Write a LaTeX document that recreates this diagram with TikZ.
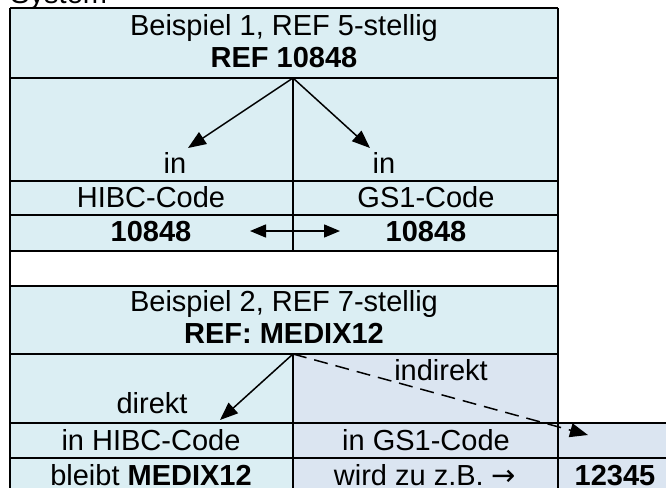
\documentclass[tikz,border=0pt]{standalone}
\usepackage{fontspec}
\setmainfont{Liberation Sans}
\newfontfamily\symfont{DejaVu Sans}
\usetikzlibrary{arrows.meta,positioning}
\definecolor{cellblue}{RGB}{219,238,243}
\definecolor{cellgray}{RGB}{219,229,241}
\tikzset{%
	txt/.style      = {inner sep=0pt, anchor=base, font=\fontsize{14.5}{16}\selectfont},
	gridline/.style = {line width=1pt},
	arrow/.style    = {line width=0.75pt, -{Triangle[length=9pt,width=7pt]}},
	dblarrow/.style = {line width=0.75pt, {Triangle[length=8pt,width=6.5pt]}-{Triangle[length=8pt,width=6.5pt]}},
}
\begin{document}
\begin{tikzpicture}[x=0.5pt,y=-0.5pt]
	\useasboundingbox (0,0) rectangle (666,488);
	\clip (0,0) rectangle (666,488);
	% cell fills
	\fill[cellblue] (10,8) rectangle (558,251);
	\fill[cellblue] (10,286) rectangle (558,354);
	\fill[cellblue] (10,354) rectangle (293,500);
	\fill[cellgray] (293,354) rectangle (558,500);
	\fill[cellgray] (558,423) rectangle (680,500);
	% grid
	\foreach \y in {8,78,181,215,251,286,354,423,458}
		\draw[gridline] (10,\y) -- (558,\y);
	\draw[gridline] (558,423) -- (680,423);
	\draw[gridline] (558,458) -- (680,458);
	\draw[gridline] (10,8) -- (10,500);
	\draw[gridline] (558,8) -- (558,500);
	\draw[gridline] (293,78) -- (293,251);
	\draw[gridline] (293,354) -- (293,500);
	
	\node[txt, anchor=base west] (title) at (10,3) {System};
	
	% Beispiel 1
	\node[txt] (hdrA) at (284,35) {Beispiel 1, REF 5-stellig};
	\node[txt] (refA) at (284,67) {\textbf{REF 10848}};
	\node[txt] (inL) at (175,173) {in};
	\node[txt] (inR) at (384,173) {in};
	\node[txt] (hibcA) at (151,207) {HIBC-Code};
	\node[txt] (gsA) at (426,207) {GS1-Code};
	\node[txt] (numL) at (151,241) {\textbf{10848}};
	\node[txt] (numR) at (426,241) {\textbf{10848}};
	\coordinate (forkA) at (293,78);
	\coordinate (tipAL) at (188,148);
	\coordinate (tipAR) at (370,148);
	\coordinate (swapL) at (250,231);
	\coordinate (swapR) at (340,231);
	\draw[arrow] (forkA) -- (tipAL);
	\draw[arrow] (forkA) -- (tipAR);
	\draw[dblarrow] (swapL) -- (swapR);
	
	% Beispiel 2
	\node[txt] (hdrB) at (284,311) {Beispiel 2, REF 7-stellig};
	\node[txt] (refB) at (284,343) {\textbf{REF: MEDIX12}};
	\node[txt] (direkt) at (152,413) {direkt};
	\node[txt] (indirekt) at (441,380) {indirekt};
	\node[txt] (hibcB) at (151,450) {in HIBC-Code};
	\node[txt] (gsB) at (426,450) {in GS1-Code};
	\node[txt] (keepB) at (151,485) {bleibt \textbf{MEDIX12}};
	\node[txt] (becomeB) at (425,485) {wird zu z.B. {\symfont →}};
	\node[txt] (numB) at (615,485) {\textbf{12345}};
	\coordinate (forkB) at (293,354);
	\coordinate (tipBL) at (220,420);
	\coordinate (tipBR) at (588,435);
	\draw[arrow] (forkB) -- (tipBL);
	\draw[arrow, dash pattern=on 7pt off 4pt] (forkB) -- (tipBR);
\end{tikzpicture}
\end{document}
